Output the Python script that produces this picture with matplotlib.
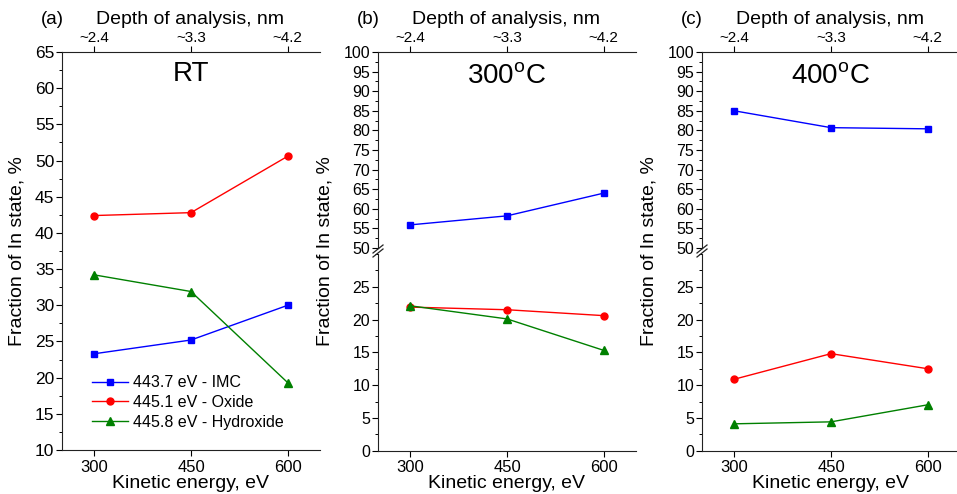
import matplotlib
matplotlib.use("Agg")
import matplotlib.pyplot as plt
from matplotlib.lines import Line2D
from matplotlib.ticker import AutoMinorLocator, MultipleLocator

plt.rcParams['font.family'] = ['Liberation Sans', 'DejaVu Sans']
plt.rcParams['mathtext.fontset'] = 'custom'
plt.rcParams['mathtext.rm'] = 'Liberation Sans'

# ---------------- data ----------------
energy = [300, 450, 600]
depth_labels = ['~2.4', '~3.3', '~4.2']
series_labels = ['443.7 eV - IMC', '445.1 eV - Oxide', '445.8 eV - Hydroxide']

rt_imc = [23.3, 25.2, 30.0]
rt_oxide = [42.4, 42.8, 50.6]
rt_hydroxide = [34.2, 31.9, 19.3]

t300_imc = [55.9, 58.2, 64.0]
t300_oxide = [21.9, 21.5, 20.6]
t300_hydroxide = [22.1, 20.1, 15.3]

t400_imc = [85.0, 80.7, 80.4]
t400_oxide = [10.9, 14.8, 12.5]
t400_hydroxide = [4.1, 4.4, 7.0]

panel_titles = ['RT', '300$^\\mathregular{o}$C', '400$^\\mathregular{o}$C']
panel_tags = ['(a)', '(b)', '(c)']

colors = ['#0000ff', '#ff0000', '#008000']
markers = ['s', 'o', '^']
msizes = [4.5, 5, 5.5]

W, H = 957, 494
fig = plt.figure(figsize=(W / 100, H / 100), dpi=100)


def rect(x0, y0, x1, y1):
    return [x0 / W, 1 - y1 / H, (x1 - x0) / W, (y1 - y0) / H]


def style(ax, top=True, bottom=True, yfs=10):
    ax.spines['right'].set_visible(False)
    ax.spines['top'].set_visible(False)
    if not bottom:
        ax.spines['bottom'].set_visible(False)
        ax.tick_params(axis='x', bottom=False, labelbottom=False)
    ax.set_xlim(250, 650)
    ax.set_xticks(energy)
    ax.tick_params(axis='x', which='both', direction='out', length=4, width=0.8,
                   labelsize=12, pad=3)
    ax.xaxis.set_minor_locator(plt.NullLocator())
    ax.tick_params(axis='y', which='major', direction='out', length=4, width=0.8,
                   labelsize=yfs, pad=1.5)
    ax.tick_params(axis='y', which='minor', direction='out', length=2, width=0.7)
    ax.yaxis.set_minor_locator(AutoMinorLocator(2))
    for s in ax.spines.values():
        s.set_linewidth(0.8)
        s.set_color('#222222')
    if top:
        sec = ax.secondary_xaxis('top')
        sec.set_xticks(energy, labels=depth_labels)
        sec.tick_params(axis='x', direction='out', length=4, width=0.8, labelsize=11, pad=1)
        sec.spines['top'].set_linewidth(0.8)
        sec.spines['top'].set_color('#222222')
    if bottom:
        ax.tick_params(axis='x', labelbottom=True)


def plot_series(ax, ys, label=True):
    for i, y in enumerate(ys):
        ax.plot(energy, y, color=colors[i], marker=markers[i], ms=msizes[i], lw=1.0,
                label=series_labels[i] if label else None)


spine_x = [62, 378, 702]
ax_w = 258
top_y, mid_top, mid_bot, bot_y = 52, 248, 254, 450.7

# ---------- panel a ----------
axa = fig.add_axes(rect(62, top_y, 62 + ax_w, 450))
plot_series(axa, [rt_imc, rt_oxide, rt_hydroxide])
axa.set_ylim(10, 65)
axa.yaxis.set_major_locator(MultipleLocator(5))
style(axa, yfs=12.5)
leg = axa.legend(loc='lower left', bbox_to_anchor=(0.09, 0.035), frameon=False,
                 fontsize=11.5, handlelength=2.3, handletextpad=0.3, labelspacing=0.3,
                 borderaxespad=0.0)

# ---------- panels b, c ----------
for k, data in ((1, (t300_imc, t300_oxide, t300_hydroxide)),
                (2, (t400_imc, t400_oxide, t400_hydroxide))):
    x0 = spine_x[k]
    up = fig.add_axes(rect(x0, top_y, x0 + ax_w, mid_top))
    lo = fig.add_axes(rect(x0, mid_bot, x0 + ax_w, bot_y))
    up.plot(energy, data[0], color=colors[0], marker=markers[0], ms=msizes[0], lw=1.0)
    for i in (1, 2):
        lo.plot(energy, data[i], color=colors[i], marker=markers[i], ms=msizes[i], lw=1.0)
    up.set_ylim(50, 100)
    up.yaxis.set_major_locator(MultipleLocator(5))
    lo.set_ylim(0, 30)
    lo.set_yticks([0, 5, 10, 15, 20, 25])
    style(up, top=True, bottom=False, yfs=11.5)
    style(lo, top=False, bottom=True, yfs=11.5)
    lo.set_ylim(0, 30)
    # break marks
    for yb in (mid_top + 1, mid_bot - 1):
        fig.add_artist(Line2D([(x0 - 5) / W, (x0 + 5) / W],
                              [1 - (yb + 4) / H, 1 - (yb - 4) / H],
                              color='#222222', lw=0.9))

# ---------- texts ----------
for k in range(3):
    x0 = spine_x[k]
    cx = x0 + ax_w / 2 - 1
    fig.text(cx / W, 1 - 20 / H, 'Depth of analysis, nm', ha='center', va='center', fontsize=14)
    fig.text((x0 - 10) / W, 1 - 20 / H, panel_tags[k], ha='center', va='center', fontsize=13.5)
    fig.text(cx / W, 1 - 483 / H, 'Kinetic energy, eV', ha='center', va='center', fontsize=14)
    ylx = [17.5, 325, 649.5][k]
    fig.text(ylx / W, 1 - 251 / H, 'Fraction of In state, %', rotation=90,
             ha='center', va='center', fontsize=14)
    tx = [191, 507, 831][k]
    ty = [74, 77, 77][k]
    fig.text(tx / W, 1 - ty / H, panel_titles[k], ha='center', va='center', fontsize=20)

fig.savefig('out.png', dpi=100)
